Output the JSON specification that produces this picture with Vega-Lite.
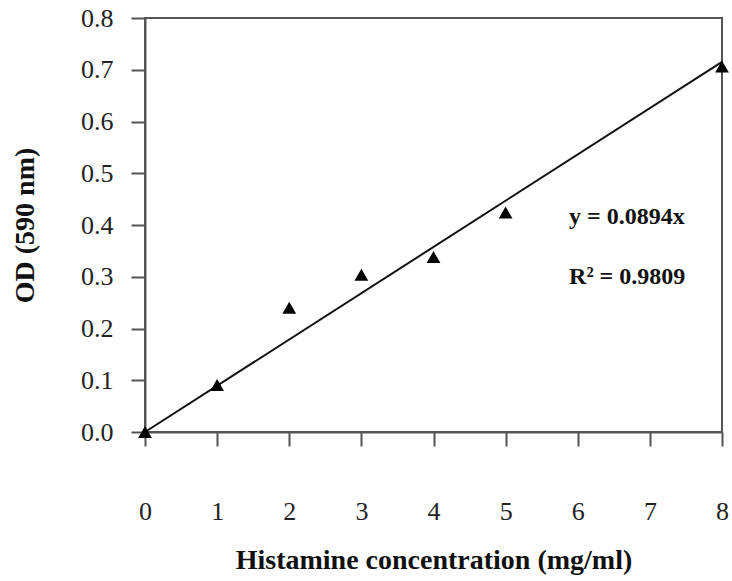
{
  "$schema": "https://vega.github.io/schema/vega-lite/v6.json",
  "width": 577,
  "height": 414,
  "autosize": {"type": "none"},
  "padding": {"left": 145, "top": 18, "right": 10, "bottom": 149},
  "background": "white",
  "config": {
    "view": {"stroke": "#555", "strokeWidth": 2},
    "axis": {
      "domainColor": "#555",
      "domainWidth": 2,
      "tickColor": "#555",
      "tickWidth": 2,
      "tickSize": 14,
      "grid": false,
      "labelFont": "Liberation Serif",
      "labelFontSize": 26,
      "labelColor": "#222",
      "labelFlush": false,
      "titleFont": "Liberation Serif",
      "titleFontSize": 28,
      "titleFontWeight": "bold",
      "titleColor": "#111"
    }
  },
  "datasets": {
    "points": [
      {"conc": 0, "od": 0.0},
      {"conc": 1, "od": 0.091},
      {"conc": 2, "od": 0.24},
      {"conc": 3, "od": 0.304},
      {"conc": 4, "od": 0.338},
      {"conc": 5, "od": 0.424},
      {"conc": 8, "od": 0.706}
    ],
    "fit": [
      {"conc": 0, "od": 0.0},
      {"conc": 8, "od": 0.7152}
    ],
    "notes": [
      {"conc": 5.88, "od": 0.416, "label": "y = 0.0894x"},
      {"conc": 5.88, "od": 0.300, "label": "R² = 0.9809"}
    ]
  },
  "layer": [
    {
      "data": {"name": "fit"},
      "mark": {"type": "line", "color": "#111", "strokeWidth": 2},
      "encoding": {
        "x": {
          "field": "conc", "type": "quantitative",
          "scale": {"domain": [0, 8], "nice": false},
          "axis": {
            "title": "Histamine concentration (mg/ml)",
            "values": [0, 1, 2, 3, 4, 5, 6, 7, 8],
            "format": "d",
            "labelPadding": 52,
            "titlePadding": 22
          }
        },
        "y": {
          "field": "od", "type": "quantitative",
          "scale": {"domain": [0, 0.8], "nice": false},
          "axis": {
            "title": "OD (590 nm)",
            "values": [0, 0.1, 0.2, 0.3, 0.4, 0.5, 0.6, 0.7, 0.8],
            "format": ".1f",
            "labelPadding": 18,
            "titlePadding": 41
          }
        }
      }
    },
    {
      "data": {"name": "points"},
      "mark": {"type": "point", "shape": "triangle-up", "filled": true, "color": "#000", "opacity": 1, "size": 190},
      "encoding": {
        "x": {"field": "conc", "type": "quantitative"},
        "y": {"field": "od", "type": "quantitative"}
      }
    },
    {
      "data": {"name": "notes"},
      "mark": {"type": "text", "align": "left", "baseline": "middle", "font": "Liberation Serif", "fontSize": 24, "fontWeight": "bold", "color": "#111"},
      "encoding": {
        "x": {"field": "conc", "type": "quantitative"},
        "y": {"field": "od", "type": "quantitative"},
        "text": {"field": "label"}
      }
    }
  ]
}
